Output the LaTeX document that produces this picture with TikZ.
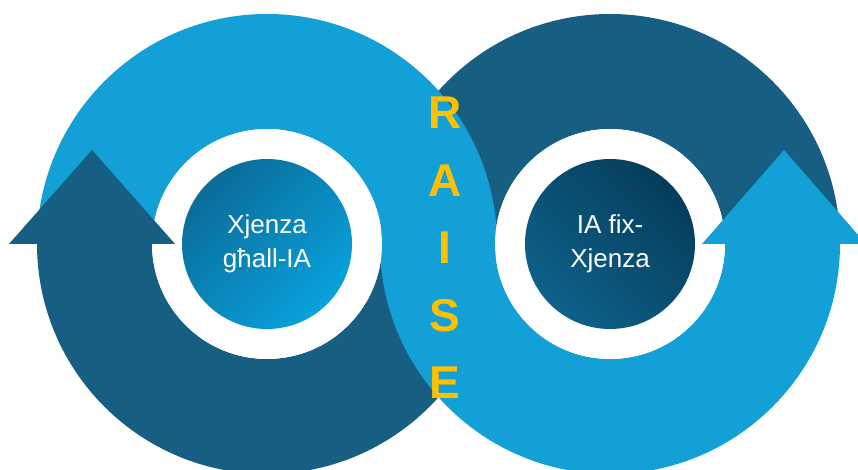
\documentclass[tikz,border=0pt]{standalone}
\usepackage{fontspec}
\setmainfont{Liberation Sans}
\definecolor{lightband}{HTML}{12A0D7}
\definecolor{darkband}{HTML}{175F82}
\definecolor{raisegold}{HTML}{FFC000}
\definecolor{scitop}{HTML}{0A6C99}
\definecolor{scibottom}{HTML}{08A2DC}
\definecolor{aitop}{HTML}{053D5A}
\definecolor{aibottom}{HTML}{0E618A}

\begin{document}
\begin{tikzpicture}[x=1pt,y=1pt,
  hub/.style={circle,minimum size=170pt,inner sep=0pt,text=white,align=center,
    font=\fontsize{26}{34}\selectfont},
  raiseletter/.style={text=raisegold,inner sep=0pt,font=\fontsize{46}{46}\selectfont\bfseries}]
\clip (0,0) rectangle (858,470);
\coordinate (lc) at (267,226);
\coordinate (rc) at (610,226);
% dark halves go underneath
\fill[darkband,shift={(lc)}] (180:230) arc[start angle=180,end angle=360,radius=230pt]
  -- (0:115) arc[start angle=360,end angle=180,radius=115pt] -- cycle;
\fill[darkband,shift={(rc)}] (0:230) arc[start angle=0,end angle=180,radius=230pt]
  -- (180:115) arc[start angle=180,end angle=0,radius=115pt] -- cycle;
% light halves on top
\fill[lightband,shift={(lc)}] (0:230) arc[start angle=0,end angle=180,radius=230pt]
  -- (180:115) arc[start angle=180,end angle=0,radius=115pt] -- cycle;
\fill[lightband,shift={(rc)}] (180:230) arc[start angle=180,end angle=360,radius=230pt]
  -- (0:115) arc[start angle=360,end angle=180,radius=115pt] -- cycle;
\fill[white] (lc) circle[radius=115pt];
\fill[white] (rc) circle[radius=115pt];
% arrow heads
\fill[darkband] (9,226) -- (175,226) -- (92,320) -- cycle;
\fill[lightband] (702,226) -- (866,226) -- (784,320) -- cycle;
% centres
\node[hub,top color=scitop,bottom color=scibottom,shading angle=45] (sci) at (lc) {Xjenza\\għall-IA};
\node[hub,top color=aitop,bottom color=aibottom,shading angle=-45] (ai) at (rc) {IA fix-\\Xjenza};
\foreach \l [count=\i] in {R,A,I,S,E}
  \node[raiseletter] (raise\i) at (445,357-67.5*\i+67.5) {\l};
\end{tikzpicture}
\end{document}
